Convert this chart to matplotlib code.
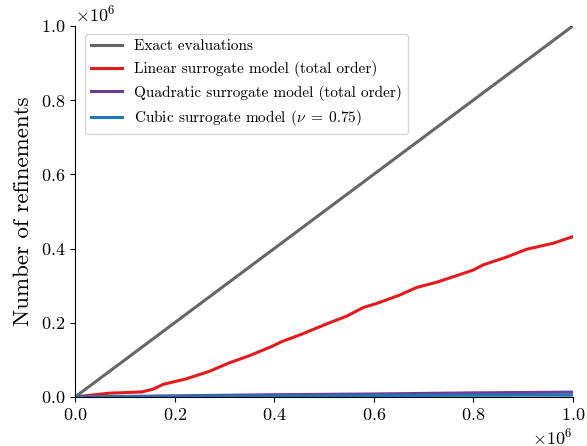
import numpy as np
import matplotlib
matplotlib.use('Agg')
import matplotlib.pyplot as plt

plt.rcParams['font.family'] = 'serif'
plt.rcParams['font.serif'] = ['cmr10']
plt.rcParams['mathtext.fontset'] = 'cm'
plt.rcParams['axes.formatter.use_mathtext'] = True
plt.rcParams['axes.unicode_minus'] = False

# evaluations (x) and refinements (y)
exact_x = [0, 1.0e6]
exact_y = [0, 1.0e6]

linear_x = [0, 0.067, 0.134, 0.157, 0.177, 0.221, 0.268, 0.308, 0.348, 0.395,
            0.415, 0.455, 0.502, 0.546, 0.579, 0.606, 0.653, 0.686, 0.726,
            0.76, 0.80, 0.82, 0.867, 0.907, 0.96, 1.0]
linear_y = [0, 0.010, 0.0135, 0.021, 0.034, 0.048, 0.068, 0.091, 0.110, 0.136,
            0.149, 0.169, 0.195, 0.218, 0.241, 0.252, 0.275, 0.295, 0.309,
            0.324, 0.342, 0.356, 0.377, 0.398, 0.414, 0.432]

quad_x = [0, 0.2, 0.4, 0.6, 0.8, 1.0]
quad_y = [0, 0.003, 0.006, 0.008, 0.011, 0.013]

cubic_x = [0, 0.2, 0.4, 0.6, 0.8, 1.0]
cubic_y = [0, 0.0015, 0.0025, 0.0035, 0.0045, 0.005]

scale = 1e6
fig, ax = plt.subplots(figsize=(5.87, 4.46), dpi=100)
fig.subplots_adjust(left=0.128, right=0.976, top=0.942, bottom=0.11)

ax.plot(exact_x, exact_y, color='#666666', lw=2.2, label='Exact evaluations')
ax.plot(np.array(linear_x) * scale, np.array(linear_y) * scale, color='#e41a1c', lw=2.2,
        label='Linear surrogate model (total order)')
qx = np.array(quad_x) * scale
qy = np.array(quad_y) * scale
ax.fill_between(qx, qy * 0.8, qy * 1.15, color='#6a3d9a', alpha=0.3, lw=0)
ax.plot(qx, qy, color='#6a3d9a', lw=2.2, label='Quadratic surrogate model (total order)')
cx = np.array(cubic_x) * scale
cy = np.array(cubic_y) * scale
ax.fill_between(cx, cy * 0.7, cy * 1.3, color='#1f78b4', alpha=0.3, lw=0)
ax.plot(cx, cy, color='#1f78b4', lw=2.2, label=r'Cubic surrogate model ($\nu \;=\; 0.75$)')

ax.set_xlim(0, scale)
ax.set_ylim(0, scale)
ax.spines['top'].set_visible(False)
ax.spines['right'].set_visible(False)
ax.tick_params(labelsize=13)
ax.xaxis.get_offset_text().set_fontsize(13)
ax.yaxis.get_offset_text().set_fontsize(13)
ax.set_ylabel('Number of refinements', fontsize=16.5, labelpad=6)
ax.legend(loc='upper left', fontsize=11, bbox_to_anchor=(0.005, 1.0))

plt.savefig('out.png', dpi=100)
